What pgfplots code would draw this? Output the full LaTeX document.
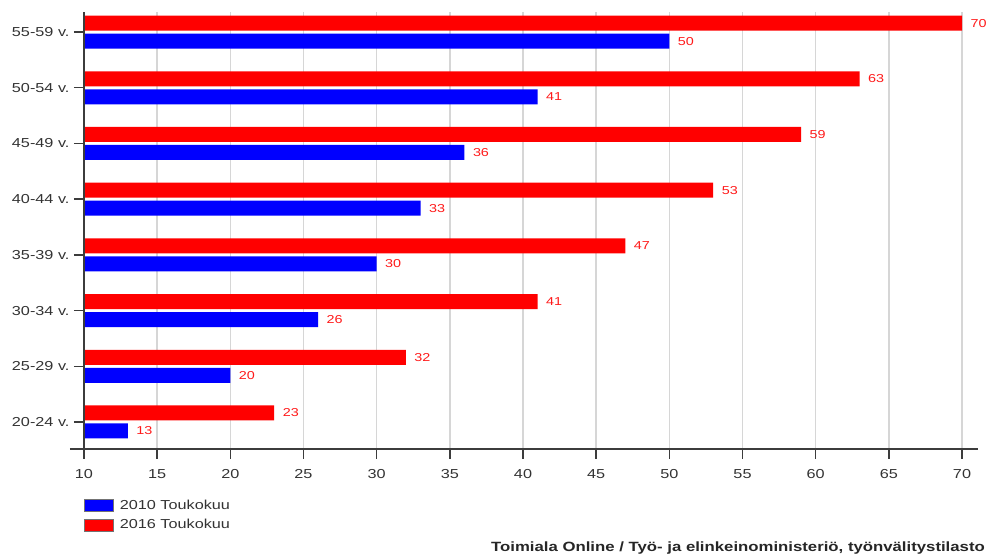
\documentclass[border=0pt]{standalone}
\usepackage{fontspec}
\setmainfont{Liberation Sans}[FakeStretch=1.25]
\usepackage{pgfplots}
\pgfplotsset{compat=1.18}

\definecolor{barred}{HTML}{FF0000}
\definecolor{barblue}{HTML}{0000FF}
\definecolor{axisgray}{HTML}{3C3C3C}
\definecolor{gridgray}{HTML}{D6D6D6}
\definecolor{labelgray}{HTML}{333333}
\definecolor{valred}{HTML}{FF1A1A}

\begin{document}
\begin{tikzpicture}[x=1pt,y=1pt]
\useasboundingbox (0,0) rectangle (986,557);
\begin{axis}[
  at={(84pt,108pt)}, anchor=south west,
  scale only axis, width=878pt, height=437pt,
  xbar, bar width=15pt,
  xmin=10, xmax=70, ymin=-0.485, ymax=7.36,
  clip mode=individual,
  axis x line*=bottom, axis y line*=left,
  axis line style={draw=none},
  xtick={10,15,...,70},
  ytick={0,...,7},
  yticklabels={20-24 v., 25-29 v., 30-34 v., 35-39 v., 40-44 v., 45-49 v., 50-54 v., 55-59 v.},
  xmajorgrids,
  major grid style={gridgray, line width=1.6pt},
  major tick length=10pt,
  tick align=outside,
  xtick style={axisgray, line width=1.4pt},
  ytick style={axisgray, line width=1.4pt},
  tick label style={font=\fontsize{13}{14}\selectfont, text=labelgray},
  /pgf/number format/assume math mode=true,
  xticklabel style={yshift=-7pt},
  yticklabel style={xshift=-1pt},
  nodes near coords,
  nodes near coords style={font=\fontsize{11.5}{12}\selectfont, text=valred, anchor=west, xshift=5pt},
  legend cell align=left,
  legend style={at={(0,-0.114)}, anchor=north west, draw=none,
    inner sep=0pt, row sep=7pt,
    nodes={inner sep=0pt, font=\fontsize{13}{14}\selectfont, text=labelgray},
    /tikz/every odd column/.append style={column sep=6pt}},
]
% 2010 Toukokuu
\addplot[fill=barblue, draw=none, bar shift=-9pt,
  legend image code/.code={
    \path[fill=barblue, draw=black!55, line width=0.6pt] (0pt,-6pt) rectangle (29pt,6pt);}]
  coordinates {
  (13,0) (20,1) (26,2) (30,3) (33,4) (36,5) (41,6) (50,7)
};
% 2016 Toukokuu
\addplot[fill=barred, draw=none, bar shift=9pt,
  legend image code/.code={
    \path[fill=barred, draw=black!55, line width=0.6pt] (0pt,-6pt) rectangle (29pt,6pt);}]
  coordinates {
  (23,0) (32,1) (41,2) (47,3) (53,4) (59,5) (63,6) (70,7)
};
\legend{2010 Toukokuu, 2016 Toukokuu}
% axis lines
\draw[axisgray, line width=2.6pt] (rel axis cs:-0.016,0) -- (rel axis cs:1.018,0);
\draw[axisgray, line width=2.6pt] (rel axis cs:0,-0.005) -- (rel axis cs:0,1);
\end{axis}
\node[anchor=base east, inner sep=0pt, font=\bfseries\fontsize{13.4}{14}\selectfont, text=black!85]
  at (985,5) {Toimiala Online / Työ- ja elinkeinoministeriö, työnvälitystilasto};
\end{tikzpicture}
\end{document}
